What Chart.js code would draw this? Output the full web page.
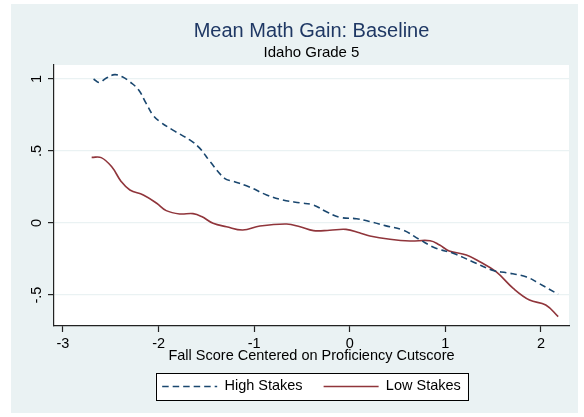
<!DOCTYPE html>
<html>
<head>
<meta charset="utf-8">
<script src="https://cdn.jsdelivr.net/npm/chart.js@4.4.1/dist/chart.umd.min.js"></script>
<style>
  html, body { margin: 0; padding: 0; background: #ffffff; }
  #wrap { position: absolute; left: 0; top: 0; width: 584px; height: 417px; }
</style>
</head>
<body>
<div id="wrap"><canvas id="gainChart"></canvas></div>
<script>
// Values
const highX = [-2.68, -2.62, -2.55, -2.46, -2.38, -2.30, -2.21, -2.13, -2.06, -1.99, -1.85, -1.67, -1.57, -1.46, -1.31, -1.22, -1.05, -0.87, -0.70, -0.52, -0.38, -0.25, -0.11, 0.07, 0.21, 0.38, 0.56, 0.73, 0.90, 1.08, 1.29, 1.50, 1.64, 1.85, 1.98, 2.18];
const highY = [1.00, 0.975, 1.005, 1.03, 1.015, 0.98, 0.925, 0.83, 0.75, 0.705, 0.645, 0.575, 0.52, 0.425, 0.31, 0.29, 0.25, 0.195, 0.16, 0.14, 0.125, 0.08, 0.04, 0.03, 0.01, -0.02, -0.05, -0.115, -0.175, -0.21, -0.27, -0.33, -0.345, -0.375, -0.42, -0.495];
const lowX = [-2.70, -2.60, -2.49, -2.39, -2.30, -2.16, -2.02, -1.92, -1.78, -1.64, -1.55, -1.43, -1.29, -1.12, -0.94, -0.66, -0.52, -0.38, -0.21, -0.04, 0.10, 0.21, 0.42, 0.63, 0.84, 0.94, 1.04, 1.22, 1.36, 1.53, 1.71, 1.88, 2.05, 2.18];
const lowY = [0.456, 0.454, 0.39, 0.287, 0.229, 0.194, 0.137, 0.086, 0.063, 0.065, 0.045, -0.002, -0.026, -0.049, -0.021, -0.007, -0.026, -0.053, -0.05, -0.044, -0.067, -0.09, -0.113, -0.125, -0.123, -0.153, -0.194, -0.222, -0.269, -0.338, -0.454, -0.535, -0.569, -0.65];
const xTicks = [-3, -2, -1, 0, 1, 2];
const yTicks = [-0.5, 0, 0.5, 1];
const yTickLabels = ['-.5', '0', '.5', '1'];

const FONT = "'Liberation Sans', Arial, sans-serif";
const panelColor = '#eaf2f3';

// Stata-like look: bluish panel, white plot region, framed legend
const stataLook = {
    id: 'stataLook',
    afterLayout(chart) {
        const ca = chart.chartArea;
        chart.boxes.forEach(b => {
            if (chart.titleBlock && b.constructor === chart.titleBlock.constructor) {
                b.left = ca.left;
                b.right = ca.right;
            }
        });
        const lg = chart.legend;
        lg.left = ca.left;
        lg.right = ca.right;
        lg.top -= 6;
        lg.bottom -= 6;
    },
    beforeDraw(chart) {
        const ctx = chart.ctx;
        const ca = chart.chartArea;
        ctx.save();
        ctx.fillStyle = '#ffffff';
        ctx.fillRect(0, 0, chart.width, chart.height);
        ctx.fillStyle = panelColor;
        ctx.fillRect(11, 4, 567, 409);
        ctx.fillStyle = '#ffffff';
        ctx.fillRect(ca.left, ca.top, ca.right - ca.left, ca.bottom - ca.top);
        // legend frame
        const hb = chart.legend.legendHitBoxes;
        if (hb && hb.length) {
            const first = hb[0], last = hb[hb.length - 1];
            const cy = first.top + first.height / 2;
            const x0 = first.left - 6.5, x1 = last.left + last.width + 7;
            ctx.fillRect(x0, cy - 13.5, x1 - x0, 27);
            ctx.strokeStyle = '#000000';
            ctx.lineWidth = 1;
            ctx.strokeRect(Math.round(x0) + 0.5, Math.round(cy - 13.5) + 0.5, Math.round(x1 - x0), 27);
        }
        ctx.restore();
    }
};

const ctx = document.getElementById('gainChart').getContext('2d');
new Chart(ctx, {
    type: 'line',
    data: {
        datasets: [
            {
                label: 'High Stakes',
                data: highX.map((x, i) => ({ x: x, y: highY[i] })),
                borderColor: '#1a476f',
                backgroundColor: '#1a476f',
                borderWidth: 1.6,
                borderDash: [6.5, 4],
                pointRadius: 0,
                tension: 0.4,
                fill: false
            },
            {
                label: 'Low Stakes',
                data: lowX.map((x, i) => ({ x: x, y: lowY[i] })),
                borderColor: '#90353b',
                backgroundColor: '#90353b',
                borderWidth: 1.6,
                pointRadius: 0,
                tension: 0.4,
                fill: false
            }
        ]
    },
    options: {
        responsive: true,
        maintainAspectRatio: false,
        animation: false,
        layout: { padding: { top: 0, left: 11, right: 15, bottom: 7.3 } },
        scales: {
            x: {
                type: 'linear',
                min: -3.094,
                max: 2.293,
                afterBuildTicks: s => { s.ticks = xTicks.map(v => ({ value: v })); },
                afterFit: s => { s.height = 38.2; },
                ticks: {
                    color: '#000',
                    font: { family: FONT, size: 14.5 },
                    padding: 3,
                    maxRotation: 0,
                    autoSkip: false,
                    callback: v => String(v)
                },
                grid: { drawOnChartArea: false, tickLength: 6, tickColor: '#222', tickWidth: 1.2 },
                border: { display: true, color: '#222', width: 1.2 },
                title: {
                    display: true,
                    text: 'Fall Score Centered on Proficiency Cutscore',
                    color: '#000',
                    font: { family: FONT, size: 14.5 },
                    padding: { top: 0, bottom: 0 }
                }
            },
            y: {
                min: -0.715,
                max: 1.097,
                afterBuildTicks: s => { s.ticks = yTicks.map(v => ({ value: v })); },
                afterFit: s => { s.width = 43; },
                ticks: {
                    color: '#000',
                    font: { family: FONT, size: 14.5 },
                    padding: 2.5,
                    minRotation: 90,
                    maxRotation: 90,
                    crossAlign: 'center',
                    autoSkip: false,
                    callback: v => yTickLabels[yTicks.indexOf(v)]
                },
                grid: { color: panelColor, lineWidth: 1.2, tickLength: 6, tickColor: '#222', tickWidth: 1.2 },
                border: { display: true, color: '#222', width: 1.2 }
            }
        },
        plugins: {
            title: {
                display: true,
                text: 'Mean Math Gain: Baseline',
                color: '#1f3864',
                font: { family: FONT, size: 20, weight: 'normal' },
                padding: { top: 19, bottom: 0 }
            },
            subtitle: {
                display: true,
                text: 'Idaho Grade 5',
                color: '#000',
                font: { family: FONT, size: 15, weight: 'normal' },
                padding: { top: 1, bottom: 3 }
            },
            legend: {
                position: 'bottom',
                labels: {
                    usePointStyle: true,
                    pointStyle: 'line',
                    pointStyleWidth: 55,
                    color: '#000',
                    font: { family: FONT, size: 14.5 },
                    padding: 21,
                    generateLabels: chart => {
                        const items = Chart.defaults.plugins.legend.labels.generateLabels(chart);
                        items.forEach(it => {
                            const ds = chart.data.datasets[it.datasetIndex];
                            it.strokeStyle = ds.borderColor;
                            it.lineWidth = ds.borderWidth;
                            it.lineDash = ds.borderDash || [];
                        });
                        return items;
                    }
                }
            },
            tooltip: { enabled: false }
        }
    },
    plugins: [stataLook]
});
</script>
</body>
</html>
